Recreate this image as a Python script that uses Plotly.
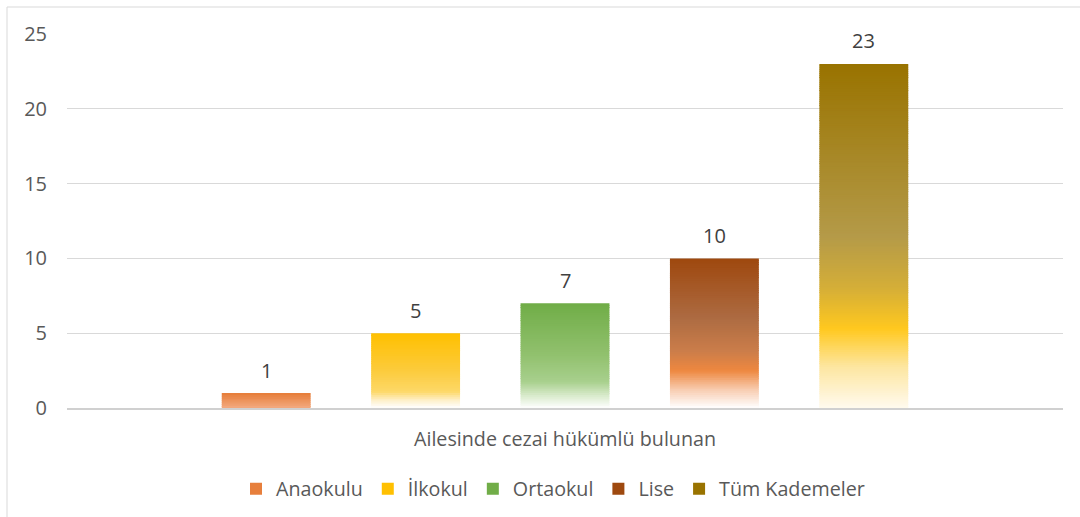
import plotly.graph_objects as go

category = ["Ailesinde cezai hükümlü bulunan"]
series_names = ["Anaokulu", "İlkokul", "Ortaokul", "Lise", "Tüm Kademeler"]
series_values = [1, 5, 7, 10, 23]
y_ticks = [0, 5, 10, 15, 20, 25]

# vertical gradient stops per series: (fraction from bottom, colour)
gradients = [
    [(0.0, "#F3AA80"), (1.0, "#E67C38")],
    [(0.0, "#FFFFFF"), (0.1, "#FEF0CC"), (0.22, "#FDD868"), (0.5, "#FCCB3C"), (1.0, "#FFC000")],
    [(0.0, "#FFFFFF"), (0.12, "#D8EACB"), (0.25, "#A8D08D"), (0.5, "#92C16F"), (1.0, "#70AD47")],
    [(0.0, "#FFFFFF"), (0.12, "#F8CDB2"), (0.25, "#EE8840"), (0.38, "#CB7D4A"), (0.6, "#AD6B42"), (1.0, "#9E480E")],
    [(0.0, "#FFFAEE"), (0.12, "#FDE6A0"), (0.23, "#FFC81F"), (0.35, "#D4AE38"), (0.5, "#B49A48"), (1.0, "#997300")],
]

def hex2rgb(h):
    h = h.lstrip("#")
    return tuple(int(h[i:i + 2], 16) for i in (0, 2, 4))

def grad_color(stops, f):
    for (f0, c0), (f1, c1) in zip(stops[:-1], stops[1:]):
        if f0 <= f <= f1:
            t = 0 if f1 == f0 else (f - f0) / (f1 - f0)
            a, b = hex2rgb(c0), hex2rgb(c1)
            r = [round(a[i] + (b[i] - a[i]) * t) for i in range(3)]
            return "rgb(%d,%d,%d)" % tuple(r)
    return stops[-1][1]

STEP = 0.125  # gradient slice height in data units (styling only)
FONT = "Open Sans"
TXT = 19.7
NUM = 20
W, H = 1080, 517
ML, MR, MT, MB = 67, 17, 34, 109
BARGAP = 0.25
plot_w = W - ML - MR
plot_h = H - MT - MB
slot = plot_w * (1 - BARGAP) / len(series_names)

fig = go.Figure()
for name, val, stops in zip(series_names, series_values, gradients):
    n = int(round(val / STEP))
    h = val / n
    # top slice first so the legend swatch takes the solid top colour
    bases = [val - h * (k + 1) for k in range(n)]
    colors = [grad_color(stops, (b + h / 2) / val) for b in bases]
    fig.add_trace(go.Bar(
        name=name,
        x=category * n,
        y=[h] * n,
        base=bases,
        marker=dict(color=colors, line=dict(width=0)),
        hoverinfo="skip",
    ))

# value labels above each bar
mid = (len(series_names) - 1) / 2
for i, val in enumerate(series_values):
    fig.add_annotation(
        x=category[0], y=val, xref="x", yref="y",
        text=str(val), showarrow=False,
        xshift=(i - mid) * slot, yshift=23, yanchor="middle",
        font=dict(family=FONT, size=NUM, color="#404040"),
    )

fig.update_layout(
    width=W, height=H,
    barmode="group",
    bargap=BARGAP,
    bargroupgap=0.405,
    paper_bgcolor="white",
    plot_bgcolor="white",
    margin=dict(l=ML, r=MR, t=MT, b=MB, autoexpand=False),
    font=dict(family=FONT, color="#595959", size=TXT),
    legend=dict(
        orientation="h",
        x=(553 - ML) / plot_w, xanchor="center",
        y=(MT + plot_h - 489) / plot_h, yanchor="middle",
        font=dict(family=FONT, size=TXT, color="#595959"),
        itemwidth=30,
        traceorder="normal",
    ),
    showlegend=True,
)
fig.update_yaxes(
    range=[0, 25],
    tickvals=y_ticks,
    showgrid=True, gridcolor="#D9D9D9", gridwidth=1,
    zeroline=False,
    showline=False,
    automargin=False,
    ticklabelstandoff=19,
    tickfont=dict(family=FONT, size=NUM, color="#595959"),
)
fig.update_xaxes(
    showline=True, linecolor="#D0D0D0", linewidth=1.5,
    ticks="",
    automargin=False,
    ticklabelstandoff=13,
    tickfont=dict(family=FONT, size=TXT, color="#595959"),
)
# chart-area border
fig.add_shape(type="rect", xref="paper", yref="paper",
              x0=(7 - ML) / plot_w, x1=(1090 - ML) / plot_w,
              y0=(MT + plot_h - 530) / plot_h, y1=(MT + plot_h - 7) / plot_h,
              line=dict(color="#D9D9D9", width=1), fillcolor="rgba(0,0,0,0)",
              layer="below")

fig.write_html("out.html",
               config={"displayModeBar": False},
               post_script="document.body.style.margin='0';document.body.style.overflow='hidden';")
